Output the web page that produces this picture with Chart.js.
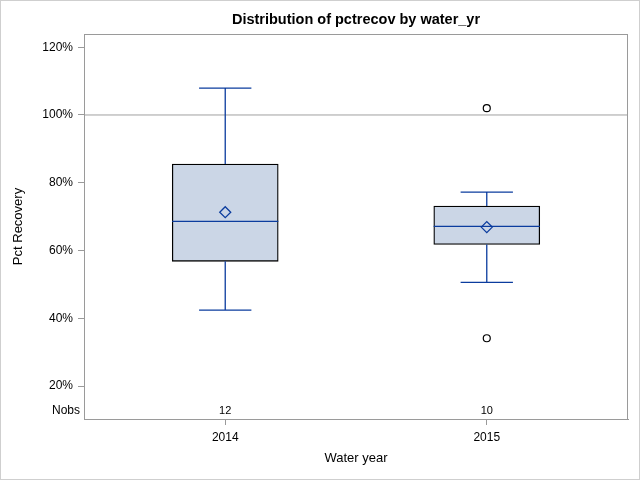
<!DOCTYPE html>
<html>
<head>
<meta charset="utf-8">
<script src="https://cdn.jsdelivr.net/npm/chart.js@4"></script>
<style>
  body { margin: 0; background: #fff; }
  #wrap { width: 640px; height: 480px; }
</style>
</head>
<body>
<div id="wrap"><canvas id="chart-canvas"></canvas></div>
<script>
// box plot values (Pct Recovery, %)
const categories = ['2014', '2015'];
const q1 = [56.8, 61.8];
const median = [68.6, 67.1];
const q3 = [85.5, 73.1];
const mean = [71.3, 66.9];
const whiskerLow = [42.4, 50.6];
const whiskerHigh = [107.9, 77.2];
const outlierCat = [1, 1];
const outlierVal = [102.0, 34.1];
const nobs = [12, 10];
const yTicks = [20, 40, 60, 80, 100, 120];
const refLine = 100;

const blue = '#0b3c9e';
const capHalf = 0.1;

// whiskers, caps and median lines as one broken line
const whiskerPts = [];
categories.forEach((c, i) => {
  whiskerPts.push({x: i, y: q3[i]}, {x: i, y: whiskerHigh[i]}, {x: i, y: null});
  whiskerPts.push({x: i - capHalf, y: whiskerHigh[i]}, {x: i + capHalf, y: whiskerHigh[i]}, {x: i, y: null});
  whiskerPts.push({x: i, y: q1[i]}, {x: i, y: whiskerLow[i]}, {x: i, y: null});
  whiskerPts.push({x: i - capHalf, y: whiskerLow[i]}, {x: i + capHalf, y: whiskerLow[i]}, {x: i, y: null});
  whiskerPts.push({x: i - 0.203, y: median[i]}, {x: i + 0.203, y: median[i]}, {x: i, y: null});
});

const xMin = -0.54, xMax = 1.54;

// frame around plot, outer border and the Nobs row
const extras = {
  id: 'extras',
  afterDraw(chart) {
    const {ctx, chartArea: a, scales} = chart;
    ctx.save();
    ctx.strokeStyle = '#9a9a9a';
    ctx.lineWidth = 1;
    ctx.strokeRect(a.left + 0.5, a.top + 0.5, a.right - a.left - 1, a.bottom - a.top);
    ctx.strokeStyle = '#cfcfcf';
    ctx.strokeRect(0.5, 0.5, chart.width - 1, chart.height - 1);
    ctx.fillStyle = '#000';
    ctx.textBaseline = 'middle';
    ctx.font = '11px "Liberation Sans", Arial, sans-serif';
    ctx.textAlign = 'center';
    nobs.forEach((n, i) => {
      ctx.fillText(String(n), scales.x.getPixelForValue(i), a.bottom - 8);
    });
    ctx.font = '12px "Liberation Sans", Arial, sans-serif';
    ctx.textAlign = 'right';
    ctx.fillText('Nobs', a.left - 4, a.bottom - 8);
    ctx.restore();
  }
};

Chart.defaults.font.family = '"Liberation Sans", Arial, sans-serif';
Chart.defaults.color = '#000';

new Chart(document.getElementById('chart-canvas'), {
  type: 'bar',
  data: {
    datasets: [
      {
        type: 'bar',
        data: categories.map((c, i) => ({x: i, y: [q1[i], q3[i]]})),
        backgroundColor: '#cbd6e6',
        borderColor: '#000',
        borderWidth: 1.3,
        borderSkipped: false,
        barThickness: 106,
        order: 3
      },
      {
        type: 'line',
        data: whiskerPts,
        borderColor: blue,
        borderWidth: 1.3,
        pointRadius: 0,
        spanGaps: false,
        order: 2
      },
      {
        type: 'line',
        data: [{x: xMin, y: refLine}, {x: xMax, y: refLine}],
        borderColor: '#a0a0a0',
        borderWidth: 1,
        pointRadius: 0,
        order: 4
      },
      {
        type: 'line',
        data: categories.map((c, i) => ({x: i, y: mean[i]})),
        showLine: false,
        pointStyle: 'rectRot',
        pointRadius: 5.5,
        pointBorderColor: blue,
        pointBackgroundColor: 'rgba(0,0,0,0)',
        pointBorderWidth: 1.3,
        order: 1
      },
      {
        type: 'line',
        data: outlierVal.map((v, i) => ({x: outlierCat[i], y: v})),
        showLine: false,
        pointStyle: 'circle',
        pointRadius: 3.5,
        pointBorderColor: '#000',
        pointBackgroundColor: '#fff',
        pointBorderWidth: 1.2,
        order: 1
      }
    ]
  },
  options: {
    responsive: true,
    maintainAspectRatio: false,
    animation: false,
    layout: { padding: { left: 0, right: 12, top: 0, bottom: 0 } },
    plugins: {
      legend: { display: false },
      tooltip: { enabled: false },
      title: {
        display: true,
        text: 'Distribution of pctrecov by water_yr',
        fullSize: false,
        font: { size: 14.5, weight: 'bold' },
        padding: { top: 11, bottom: 5.6 }
      }
    },
    scales: {
      x: {
        type: 'linear',
        min: xMin,
        max: xMax,
        offset: false,
        afterBuildTicks: s => { s.ticks = categories.map((c, i) => ({value: i})); },
        afterFit: s => { s.height = 61; },
        ticks: {
          callback: v => categories[v],
          font: { size: 12 },
          padding: 5
        },
        grid: { offset: false, drawOnChartArea: false, drawTicks: true, tickLength: 6, color: '#9a9a9a' },
        border: { color: '#9a9a9a' },
        title: {
          display: true,
          text: 'Water year',
          font: { size: 13 },
          padding: { top: 0, bottom: 14.2 }
        }
      },
      y: {
        type: 'linear',
        min: 10.26,
        max: 123.9,
        afterBuildTicks: s => { s.ticks = yTicks.map(v => ({value: v})); },
        afterFit: s => { s.width = 84; },
        ticks: {
          callback: v => v + '%',
          font: { size: 12 },
          padding: 5
        },
        grid: { drawOnChartArea: false, drawTicks: true, tickLength: 6, color: '#9a9a9a' },
        border: { color: '#9a9a9a' },
        title: {
          display: true,
          text: 'Pct Recovery',
          font: { size: 13 },
          padding: { top: 10.2, bottom: 0 }
        }
      }
    }
  },
  plugins: [extras]
});
</script>
</body>
</html>
